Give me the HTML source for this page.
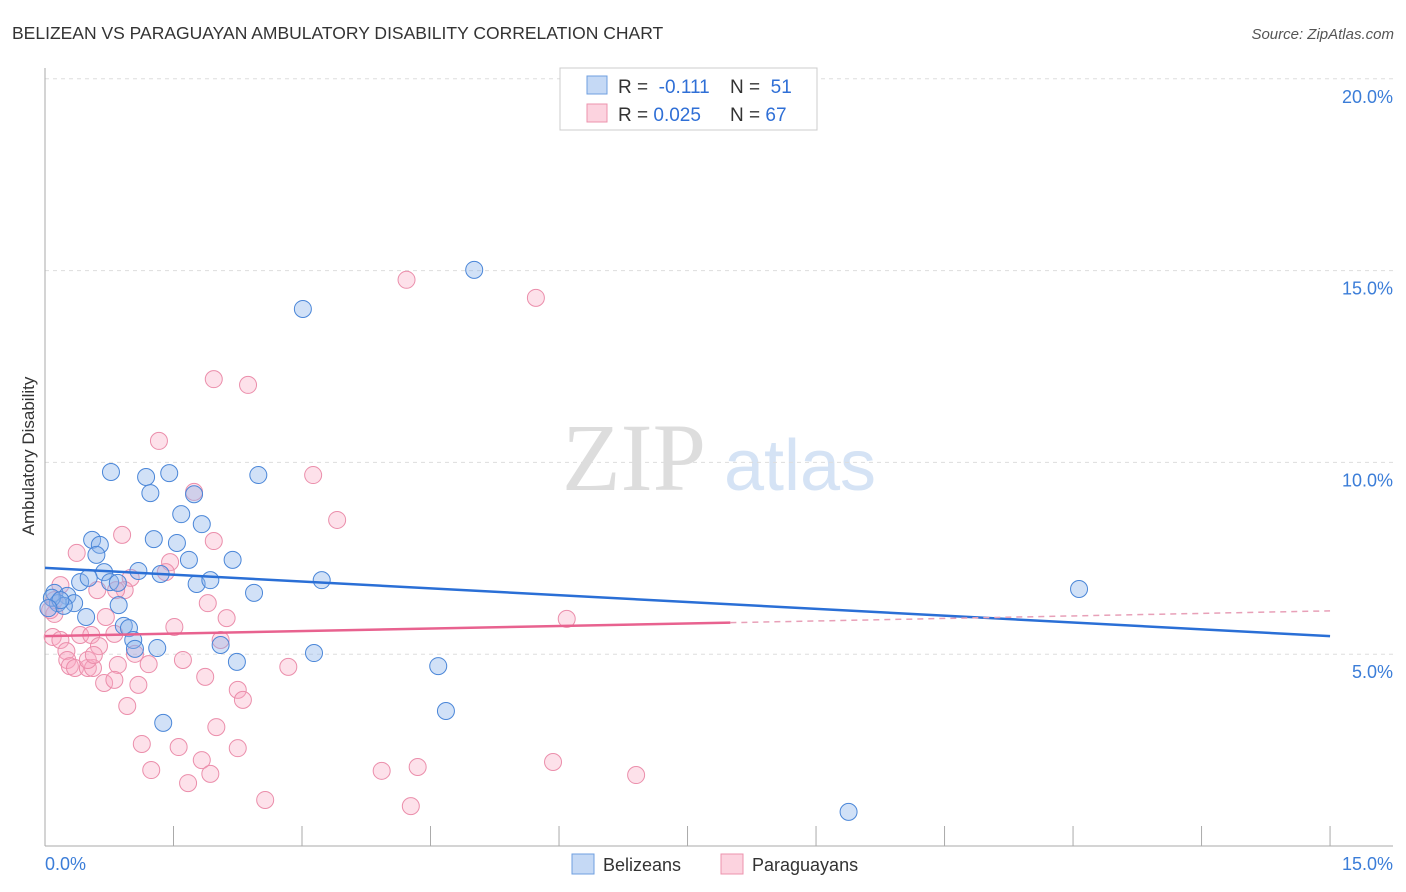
<!DOCTYPE html>
<html><head><meta charset="utf-8"><style>
body{margin:0;background:#fff;font-family:"Liberation Sans",sans-serif;}
svg{display:block}
</style></head><body>
<svg id="chart" width="1406" height="892">
<text x="12" y="39" font-size="17.5" fill="#333">BELIZEAN VS PARAGUAYAN AMBULATORY DISABILITY CORRELATION CHART</text>
<text x="1394" y="39" font-size="15" fill="#555" font-style="italic" text-anchor="end">Source: ZipAtlas.com</text>
<text x="634" y="490" font-size="96" fill="#ddd" font-family="Liberation Serif" text-anchor="middle">ZIP</text>
<text x="800" y="490" font-size="72" fill="#d5e3f5" text-anchor="middle">atlas</text>
<text transform="translate(34,456) rotate(-90)" font-size="17" fill="#333" text-anchor="middle">Ambulatory Disability</text>
<g id="grid"></g><g id="axes"></g><g id="pts"></g><g id="lines"></g>
<g>
<rect x="560" y="68" width="257" height="62" fill="#fff" stroke="#ccc"/>
<rect x="587" y="76" width="20" height="18" fill="#c5d9f5" stroke="#6f9fe0"/>
<rect x="587" y="104" width="20" height="18" fill="#fcd3df" stroke="#ec93ae"/>
<text x="618" y="93" font-size="19" fill="#333">R = <tspan fill="#2f6fd6">&#160;-0.111</tspan></text>
<text x="730" y="93" font-size="19" fill="#333">N = <tspan fill="#2f6fd6">&#160;51</tspan></text>
<text x="618" y="121" font-size="19" fill="#333">R = <tspan fill="#2f6fd6">0.025</tspan></text>
<text x="730" y="121" font-size="19" fill="#333">N = <tspan fill="#2f6fd6">67</tspan></text>
</g>
<g>
<rect x="572" y="854" width="22" height="20" fill="#c5d9f5" stroke="#6f9fe0"/>
<text x="603" y="871" font-size="18" fill="#333">Belizeans</text>
<rect x="721" y="854" width="22" height="20" fill="#fcd3df" stroke="#ec93ae"/>
<text x="752" y="871" font-size="18" fill="#333">Paraguayans</text>
</g>
</svg>
<script>
const yTicks=[5,10,15,20];
const yTickLabels=["5.0%","10.0%","15.0%","20.0%"];
const xTickLabels=["0.0%","15.0%"];
const blueX=[5.01,3.01,0.77,1.18,1.45,1.23,2.49,1.74,1.59,1.83,0.55,0.64,1.27,1.54,0.60,1.68,2.19,0.69,1.09,1.35,0.41,0.51,1.77,1.93,3.23,0.76,0.85,0.11,0.26,0.34,0.15,0.22,0.48,0.86,0.92,0.98,1.03,1.05,1.31,2.05,2.24,3.14,4.59,4.68,1.38,9.38,12.07,2.44,0.08,0.18,0.04];
const blueY=[15.02,14.0,9.75,9.62,9.72,9.20,9.67,9.17,8.65,8.39,7.98,7.85,8.00,7.90,7.59,7.46,7.46,7.14,7.17,7.09,6.88,6.99,6.83,6.93,6.93,6.88,6.86,6.60,6.52,6.33,6.33,6.26,5.97,6.28,5.74,5.68,5.37,5.14,5.16,5.24,4.80,5.03,4.69,3.52,3.21,0.89,6.70,6.60,6.47,6.41,6.20];
const pinkX=[4.22,5.73,1.97,2.37,1.33,3.13,1.74,3.41,0.90,0.37,1.97,1.46,1.00,0.61,0.93,0.71,1.90,2.12,1.51,0.11,0.09,0.18,0.41,0.54,0.81,0.63,0.25,0.26,0.29,0.35,0.50,0.56,0.85,1.05,1.21,1.61,2.05,2.84,1.87,2.25,2.31,0.69,0.81,1.09,0.96,2.00,1.13,1.56,2.25,1.83,1.24,1.67,1.93,3.93,4.35,5.93,6.90,2.57,4.27,6.09,0.11,0.06,0.18,0.50,0.83,0.57,1.41];
const pinkY=[14.76,14.29,12.17,12.02,10.56,9.67,9.23,8.50,8.11,7.64,7.95,7.40,6.99,6.67,6.67,5.97,6.33,5.94,5.71,6.05,5.45,5.37,5.50,5.50,5.53,5.21,5.08,4.85,4.69,4.64,4.64,4.64,4.72,5.01,4.74,4.85,5.37,4.67,4.41,4.07,3.81,4.25,4.33,4.20,3.65,3.10,2.66,2.58,2.55,2.24,1.98,1.64,1.88,1.96,2.06,2.19,1.85,1.20,1.04,5.92,6.41,6.15,6.80,4.85,6.67,4.98,7.14];
const blueTrend=[7.25,5.47];
const pinkTrend=[5.47,6.13];
const NS="http://www.w3.org/2000/svg";
const X=v=>45+v*85.67, Y=v=>846-v*38.36;
function mk(t,a,p){const e=document.createElementNS(NS,t);for(const k in a)e.setAttribute(k,a[k]);document.getElementById(p).appendChild(e);return e;}
yTicks.forEach((v,i)=>{
 const g=mk('line',{x1:45,x2:1393,y1:Y(v),y2:Y(v),stroke:'#ddd','stroke-dasharray':'4,4'},'grid');
 
 
 const t=mk('text',{x:1393,y:Y(v)+24,'font-size':18,fill:'#3b7dd8','text-anchor':'end'},'axes');
 t.textContent=yTickLabels[i];
 
 
});
const ax=mk('line',{x1:45,x2:45,y1:68,y2:846,stroke:'#aaa'},'axes');


const bx=mk('line',{x1:45,x2:1393,y1:846,y2:846,stroke:'#aaa'},'axes');


for(let i=0;i<=10;i++){const v=i*1.5;const l=mk('line',{x1:X(v),x2:X(v),y1:826,y2:846,stroke:'#aaa'},'axes');
 
 }
[[0,'start'],[15,'end']].forEach((d,i)=>{const t=mk('text',{x:i?1393:45,y:870,'font-size':18,fill:'#3b7dd8','text-anchor':d[1]},'axes');t.textContent=xTickLabels[i];
 
 });
pinkX.forEach((x,i)=>{const c=mk('circle',{cx:X(x),cy:Y(pinkY[i]),r:8.5,fill:'rgba(248,170,195,0.35)',stroke:'#eb8eab','stroke-width':1},'pts');
 
 });
blueX.forEach((x,i)=>{const c=mk('circle',{cx:X(x),cy:Y(blueY[i]),r:8.5,fill:'rgba(140,180,235,0.4)',stroke:'#4a86d8','stroke-width':1},'pts');
 
 });
const bl=mk('line',{x1:X(0),y1:Y(blueTrend[0]),x2:X(15),y2:Y(blueTrend[1]),stroke:'#2a6fd6','stroke-width':2.5},'lines');


const pm=pinkTrend[0]+(pinkTrend[1]-pinkTrend[0])*8/15;
const ps=mk('line',{x1:X(0),y1:Y(pinkTrend[0]),x2:X(8),y2:Y(pm),stroke:'#e8628f','stroke-width':2.5},'lines');


const pd=mk('line',{x1:X(8),y1:Y(pm),x2:X(15),y2:Y(pinkTrend[1]),stroke:'#e8a0b8','stroke-width':1.5,'stroke-dasharray':'6,5'},'lines');


</script>
</body></html>
